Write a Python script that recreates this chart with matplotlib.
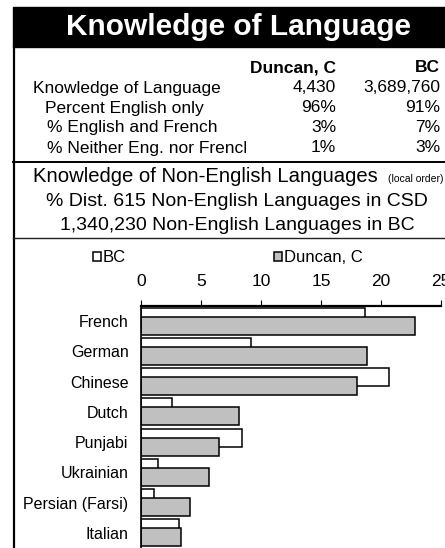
import matplotlib.pyplot as plt
from matplotlib.patches import Rectangle
import numpy as np

plt.rcParams['font.family'] = ['Liberation Sans', 'DejaVu Sans']

W, H = 445, 548

# table at the top
table_rows = ['Knowledge of Language', 'Percent English only',
              '% English and French', '% Neither Eng. nor French']
table_duncan = ['4,430', '96%', '3%', '1%']
table_bc = ['3,689,760', '91%', '7%', '3%']

# bar chart
languages = ['French', 'German', 'Chinese', 'Dutch', 'Punjabi',
             'Ukrainian', 'Persian (Farsi)', 'Italian']
bc = [18.7, 9.2, 20.7, 2.6, 8.4, 1.4, 1.1, 3.2]
duncan = [22.8, 18.8, 18.0, 8.2, 6.5, 5.7, 4.1, 3.3]


def fx(x):
    return x / W


def fy(y):
    return 1 - y / H


fig = plt.figure(figsize=(W / 100, H / 100), dpi=100)

# black title band and frame lines
fig.patches.append(Rectangle((fx(13), fy(47)), fx(W - 13), 40 / H,
                             transform=fig.transFigure, color='black'))
fig.add_artist(plt.Line2D([fx(14), fx(14)], [fy(47), 0], color='black', lw=1.6,
                          transform=fig.transFigure))
fig.add_artist(plt.Line2D([fx(13), 1], [fy(162), fy(162)], color='black', lw=1.4,
                          transform=fig.transFigure))
fig.add_artist(plt.Line2D([fx(13), 1], [fy(238), fy(238)], color='#222222', lw=1.0,
                          transform=fig.transFigure))

fig.text(fx(238), fy(27), 'Knowledge of Language', color='white', fontsize=21.5,
         fontweight='bold', ha='center', va='center')

# table
fig.text(fx(336), fy(68), 'Duncan, C', fontsize=12.5, fontweight='bold', ha='right', va='center')
fig.text(fx(440), fy(68), 'BC', fontsize=12.5, fontweight='bold', ha='right', va='center')
row_y = [88, 108, 128, 148]
row_x = [33, 45, 47, 47]
clip = Rectangle((0, 0), fx(246), 1, transform=fig.transFigure)
for i, lab in enumerate(table_rows):
    t = fig.text(fx(row_x[i]), fy(row_y[i]), lab, fontsize=12.5, ha='left', va='center')
    t.set_clip_path(clip)
    fig.text(fx(336), fy(row_y[i]), table_duncan[i], fontsize=12.5, ha='right', va='center')
    fig.text(fx(440), fy(row_y[i]), table_bc[i], fontsize=12.5, ha='right', va='center')

# subtitles
fig.text(fx(33), fy(177), 'Knowledge of Non-English Languages', fontsize=14.6,
         ha='left', va='center')
fig.text(fx(443), fy(179), '(local order)', fontsize=7.5, ha='right', va='center')
fig.text(fx(237), fy(202), '% Dist. 615 Non-English Languages in CSD', fontsize=14,
         ha='center', va='center')
fig.text(fx(237), fy(225), '1,340,230 Non-English Languages in BC', fontsize=14,
         ha='center', va='center')

# chart
ax = fig.add_axes([fx(141), 0, fx(441) - fx(141), fy(306)])
y = np.arange(len(languages))
b1 = ax.barh(y - 0.15, bc, height=0.6, color='white', edgecolor='black', lw=1.1, label='BC')
b2 = ax.barh(y + 0.15, duncan, height=0.6, color='#c0c0c0', edgecolor='black', lw=1.1,
             label='Duncan, C')
ax.set_xlim(0, 25)
ax.set_ylim(7.5, -0.5)
ax.set_xticks([0, 5, 10, 15, 20, 25])
ax.set_yticks(y)
ax.set_yticklabels(languages, fontsize=11.5)
ax.xaxis.tick_top()
ax.tick_params(axis='x', direction='out', length=4.5, width=0.8, pad=8, labelsize=12.5)
ax.tick_params(axis='y', length=0, pad=9)
ax.spines['right'].set_visible(False)
ax.spines['bottom'].set_visible(False)
ax.spines['top'].set_linewidth(1.6)
ax.spines['left'].set_linewidth(1.2)

fig.legend(handles=[b1, b2], loc='center left', bbox_to_anchor=(fx(93), fy(258)),
           ncol=2, frameon=False, fontsize=12, handlelength=0.45, handleheight=0.45,
           handletextpad=0.15, columnspacing=8.9, borderpad=0, borderaxespad=0)

fig.savefig('out.png', dpi=100)
